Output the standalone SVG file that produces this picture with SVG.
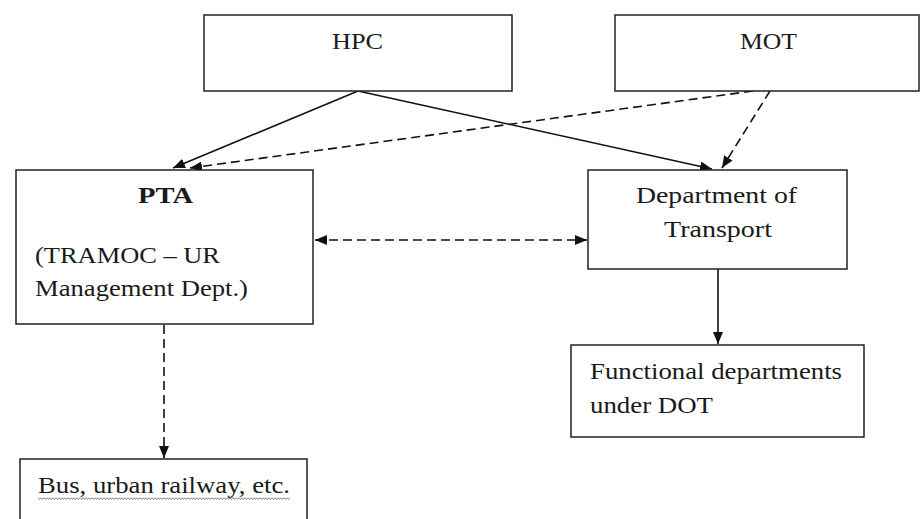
<svg xmlns="http://www.w3.org/2000/svg" width="921" height="519" viewBox="0 0 921 519">
<style>
.box{fill:#fff;stroke:#222;stroke-width:1.5}
.t{font-family:"Liberation Serif","Times New Roman",serif;font-size:24px;fill:#1a1a1a}
.c{text-anchor:middle}
.b{font-weight:bold}
.ln{fill:none;stroke:#111;stroke-width:1.6}
.d{stroke-dasharray:9 5}
</style>
<defs>
<marker id="ah" markerUnits="userSpaceOnUse" markerWidth="14" markerHeight="12" refX="12" refY="5" orient="auto-start-reverse">
<path d="M0,0 L12,5 L0,10 z" fill="#111"/>
</marker>
<pattern id="wave" patternUnits="userSpaceOnUse" width="3" height="3" x="38" y="497">
<polyline points="0,0.5 1.5,2.5 3,0.5" fill="none" stroke="#666" stroke-width="0.8"/>
</pattern>
</defs>
<rect width="921" height="519" fill="#fff"/>
<g id="connectors">
<line class="ln" x1="358" y1="91" x2="173" y2="168" marker-end="url(#ah)"/>
<line class="ln" x1="358" y1="91" x2="712" y2="169" marker-end="url(#ah)"/>
<line class="ln d" x1="753" y1="91" x2="190" y2="168" marker-end="url(#ah)"/>
<line class="ln d" x1="770" y1="91" x2="722" y2="168" marker-end="url(#ah)"/>
<line class="ln d" x1="315" y1="240" x2="587" y2="240" marker-start="url(#ah)" marker-end="url(#ah)"/>
<line class="ln" x1="718" y1="269" x2="718" y2="344" marker-end="url(#ah)"/>
<line class="ln d" x1="164" y1="325" x2="164" y2="458" marker-end="url(#ah)"/>
</g>
<g id="hpc">
<rect class="box" x="204" y="15" width="308" height="76"/>
<text class="t" x="332" y="49" textLength="51" lengthAdjust="spacingAndGlyphs">HPC</text>
</g>
<g id="mot">
<rect class="box" x="615" y="15" width="304" height="76"/>
<text class="t" x="740" y="49" textLength="57" lengthAdjust="spacingAndGlyphs">MOT</text>
</g>
<g id="pta">
<rect class="box" x="16" y="170" width="297" height="154"/>
<text class="t b" x="138" y="203" textLength="55" lengthAdjust="spacingAndGlyphs">PTA</text>
<text class="t" x="35" y="263" textLength="185" lengthAdjust="spacingAndGlyphs">(TRAMOC – UR</text>
<text class="t" x="35" y="296" textLength="213" lengthAdjust="spacingAndGlyphs">Management Dept.)</text>
</g>
<g id="dot">
<rect class="box" x="588" y="170" width="259" height="99"/>
<text class="t" x="636" y="203" textLength="161" lengthAdjust="spacingAndGlyphs">Department of</text>
<text class="t" x="664" y="237" textLength="108" lengthAdjust="spacingAndGlyphs">Transport</text>
</g>
<g id="functional">
<rect class="box" x="571" y="345" width="293" height="92"/>
<text class="t" x="590" y="379" textLength="252" lengthAdjust="spacingAndGlyphs">Functional departments</text>
<text class="t" x="590" y="413" textLength="123" lengthAdjust="spacingAndGlyphs">under DOT</text>
</g>
<g id="bus">
<rect class="box" x="20" y="459" width="287" height="70"/>
<text class="t" x="38" y="493" textLength="252" lengthAdjust="spacingAndGlyphs">Bus, urban railway, etc.</text>
<rect x="38" y="497" width="252" height="3" fill="url(#wave)"/>
</g>
</svg>
